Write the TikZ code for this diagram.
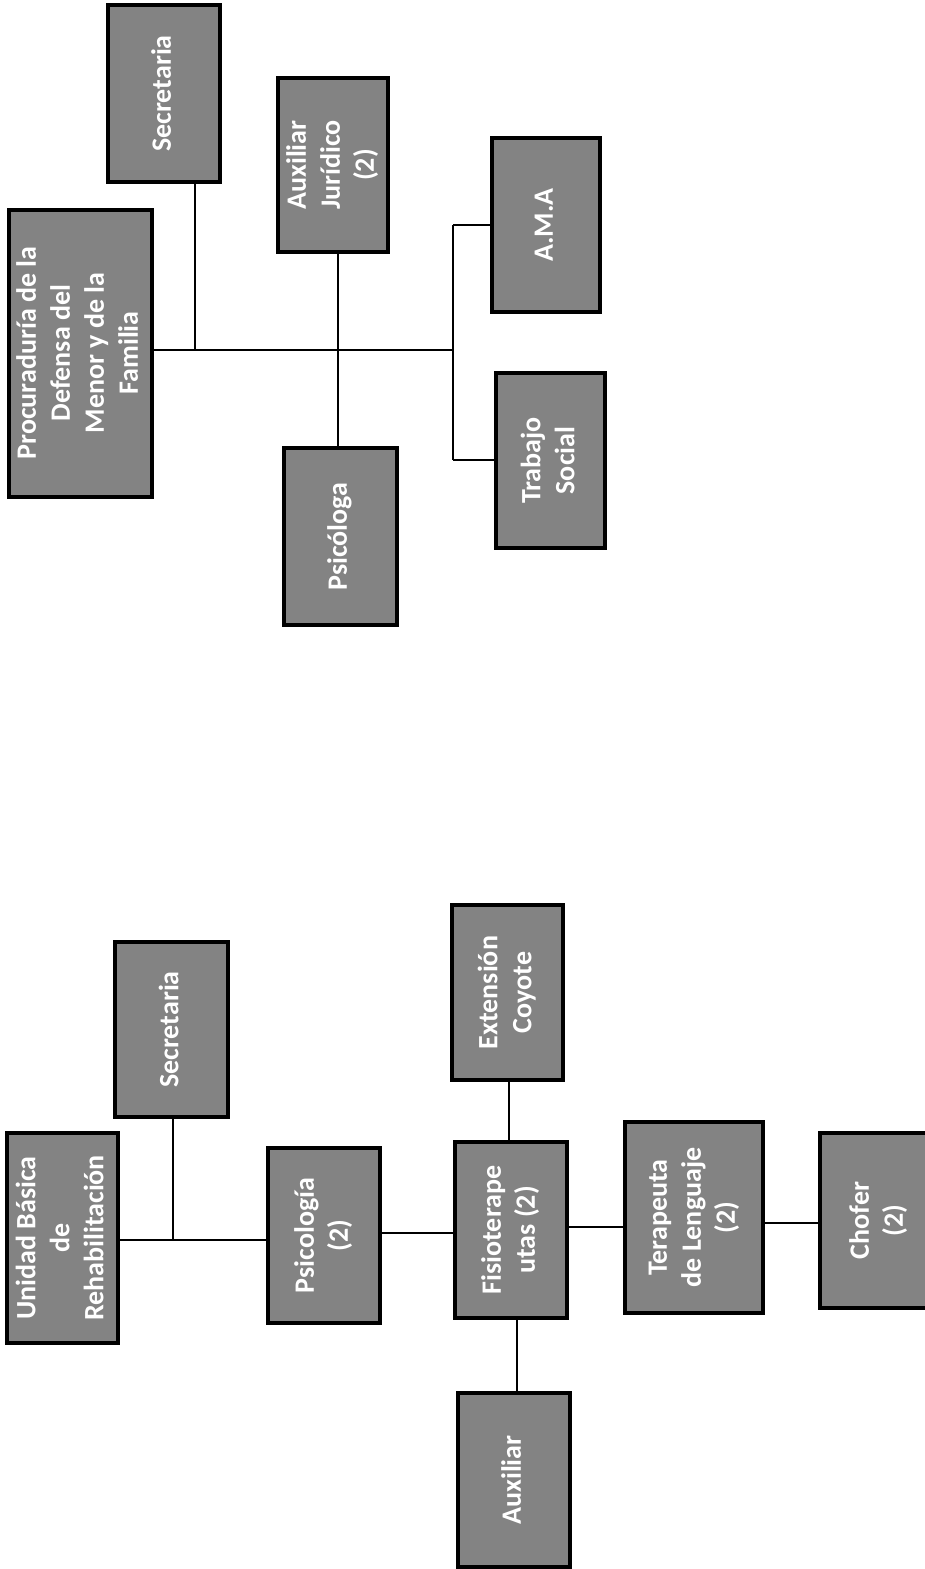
\documentclass[tikz,border=0pt]{standalone}
\usepackage{fontspec}
\usepackage{graphicx}
\setmainfont{Carlito}
\definecolor{boxgray}{HTML}{838383}
\newcommand{\vtext}[1]{\rotatebox{90}{\begin{tabular}{@{}c@{}}#1\end{tabular}}}
\begin{document}
\begin{tikzpicture}[x=1pt,y=-1pt,
  orgbox/.style={draw=black, line width=4pt, fill=boxgray, text=white, inner sep=0pt,
    font=\fontsize{28}{34}\selectfont\bfseries, align=center},
  link/.style={draw=black, line width=1.4pt}]
\useasboundingbox (0,0) rectangle (925,1569);
\fill[white] (0,0) rectangle (925,1569);
% ---------- top chart ----------
\node[orgbox, minimum width=143pt, minimum height=287pt] (proc) at (80,353) {\vtext{Procuraduría de la\\Defensa del\\Menor y de la\\Familia}};
\node[orgbox, minimum width=112pt, minimum height=177pt] (sec1) at (164,93.5) {\vtext{Secretaria}};
\node[orgbox, minimum width=110pt, minimum height=174pt] (aux) at (333,165) {\vtext{Auxiliar\\Jurídico\\(2)}};
\node[orgbox, minimum width=108pt, minimum height=174pt] (ama) at (546,225) {\vtext{A.M.A}};
\node[orgbox, minimum width=109pt, minimum height=175pt] (trab) at (550.5,460.5) {\vtext{Trabajo\\Social}};
\node[orgbox, minimum width=113pt, minimum height=177pt] (psi1) at (340,536.5) {\vtext{Psicóloga}};
\coordinate (t1) at (195,350);
\coordinate (t2) at (338,350);
\coordinate (t3) at (453,350);
\coordinate (t4) at (453,225);
\coordinate (t5) at (453,460);
\draw[link] (proc.east |- t1) -- (t3);
\draw[link] (t1) -- (t1 |- sec1.south);
\draw[link] (t2 |- aux.south) -- (t2 |- psi1.north);
\draw[link] (t4) -- (t5);
\draw[link] (t4) -- (ama.west |- t4);
\draw[link] (t5) -- (trab.west |- t5);
% ---------- bottom chart ----------
\node[orgbox, minimum width=111pt, minimum height=210pt] (unid) at (62.5,1238) {\vtext{Unidad Básica\\de\\Rehabilitación}};
\node[orgbox, minimum width=113pt, minimum height=175pt] (sec2) at (171.5,1029.5) {\vtext{Secretaria}};
\node[orgbox, minimum width=112pt, minimum height=175pt] (psi2) at (324,1235.5) {\vtext{Psicología\\(2)}};
\node[orgbox, minimum width=112pt, minimum height=176pt] (fis) at (511,1230) {\vtext{Fisioterape\\utas (2)}};
\node[orgbox, minimum width=111pt, minimum height=175pt] (ext) at (507.5,992.5) {\vtext{Extensión\\Coyote}};
\node[orgbox, minimum width=112pt, minimum height=174pt] (auxb) at (514,1480) {\vtext{Auxiliar}};
\node[orgbox, minimum width=138pt, minimum height=191pt] (ter) at (694,1217.5) {\vtext{Terapeuta\\de Lenguaje\\(2)}};
\node[orgbox, minimum width=118pt, minimum height=175pt] (chof) at (879,1220.5) {\vtext{Chofer\\(2)}};
\coordinate (b1) at (173,1240);
\coordinate (b2) at (420,1233);
\coordinate (b3) at (509,1110);
\coordinate (b4) at (517,1350);
\coordinate (b5) at (595,1227);
\coordinate (b6) at (790,1223);
\draw[link] (unid.east |- b1) -- (psi2.west |- b1);
\draw[link] (b1) -- (b1 |- sec2.south);
\draw[link] (psi2.east |- b2) -- (fis.west |- b2);
\draw[link] (b3 |- ext.south) -- (b3 |- fis.north);
\draw[link] (b4 |- fis.south) -- (b4 |- auxb.north);
\draw[link] (fis.east |- b5) -- (ter.west |- b5);
\draw[link] (ter.east |- b6) -- (chof.west |- b6);
\end{tikzpicture}
\end{document}
